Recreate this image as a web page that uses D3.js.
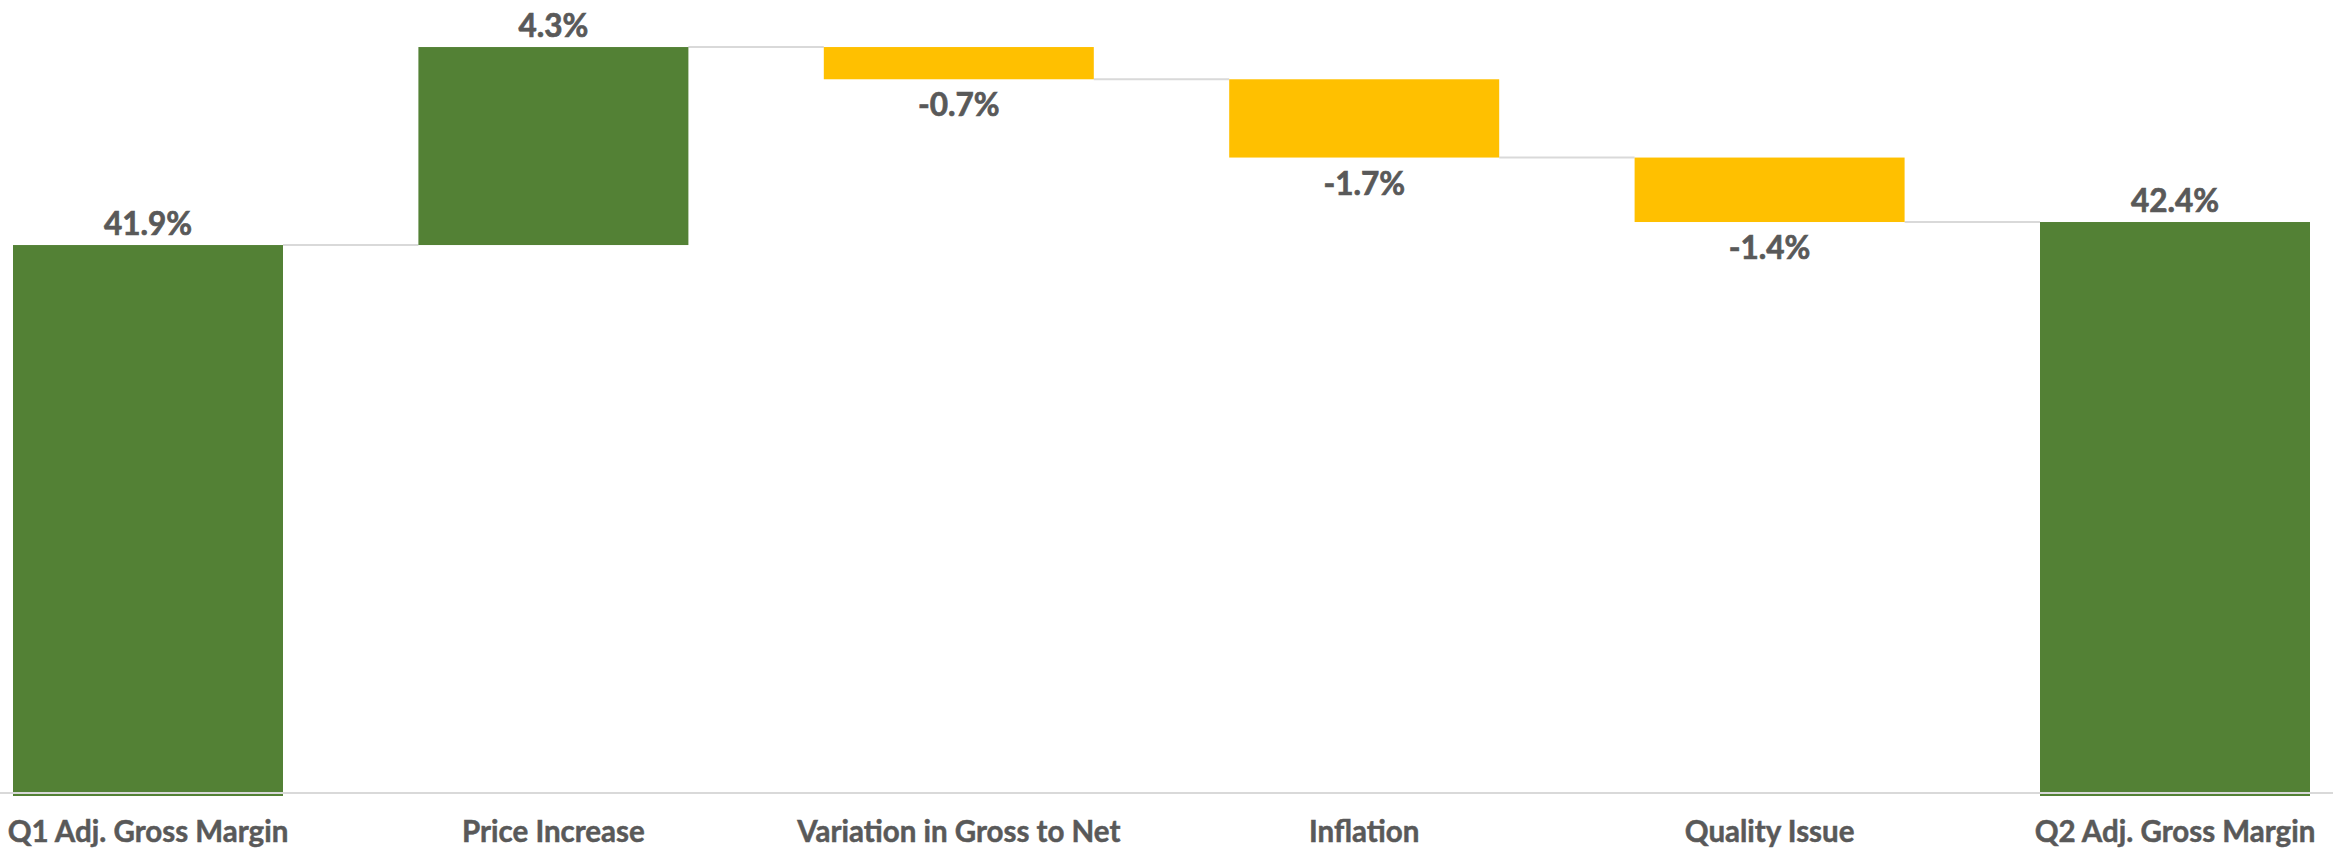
<!DOCTYPE html>
<html>
<head>
<meta charset="utf-8">
<script src="https://cdn.jsdelivr.net/npm/d3@7/dist/d3.min.js"></script>
<style>
  html, body { margin: 0; padding: 0; background: #ffffff; }
  svg { display: block; }
</style>
</head>
<body>
<svg id="chart" width="2333" height="848"></svg>
<script>
// ---- data ----
const categories = ["Q1 Adj. Gross Margin", "Price Increase", "Variation in Gross to Net", "Inflation", "Quality Issue", "Q2 Adj. Gross Margin"];
const values = [41.9, 4.3, -0.7, -1.7, -1.4, 42.4];
const kinds = ["total", "delta", "delta", "delta", "delta", "total"];
const valueLabels = ["41.9%", "4.3%", "-0.7%", "-1.7%", "-1.4%", "42.4%"];
const yDomain = [30, 47];

// ---- layout ----
const W = 2333, H = 848;
const svg = d3.select("#chart");
const green = "#538135", yellow = "#FFC000", textCol = "#595959", gridCol = "#d9d9d9";

const x = d3.scaleBand().domain(categories).range([13, 2310]).paddingInner(0.334).paddingOuter(0);
const y = d3.scaleLinear().domain(yDomain).range([793, 10.2]);

// running waterfall
let running = 0;
const bars = categories.map((c, i) => {
  let start, end;
  if (kinds[i] === "total") { start = yDomain[0]; end = values[i]; running = values[i]; }
  else { start = running; end = running + values[i]; running = end; }
  return { cat: c, start, end, value: values[i], kind: kinds[i], label: valueLabels[i] };
});

// connectors
for (let i = 0; i < bars.length - 1; i++) {
  const level = bars[i].end;
  svg.append("line")
    .attr("x1", x(bars[i].cat) + x.bandwidth())
    .attr("x2", x(bars[i + 1].cat))
    .attr("y1", y(level)).attr("y2", y(level))
    .attr("stroke", gridCol).attr("stroke-width", 2);
}

// bars
svg.selectAll("rect.bar").data(bars).enter().append("rect")
  .attr("class", "bar")
  .attr("x", d => x(d.cat))
  .attr("width", x.bandwidth())
  .attr("y", d => y(Math.max(d.start, d.end)))
  .attr("height", d => {
    const h = Math.abs(y(d.start) - y(d.end));
    return d.kind === "total" ? h + 3 : h;
  })
  .attr("fill", d => (d.kind === "total" || d.value >= 0) ? green : yellow);

// axis baseline
svg.append("line")
  .attr("x1", 0).attr("x2", W)
  .attr("y1", y(yDomain[0])).attr("y2", y(yDomain[0]))
  .attr("stroke", gridCol).attr("stroke-width", 2);

// value labels
svg.selectAll("text.val").data(bars).enter().append("text")
  .attr("class", "val")
  .attr("x", d => x(d.cat) + x.bandwidth() / 2)
  .attr("y", d => d.value >= 0 ? y(Math.max(d.start, d.end)) - 10 : y(Math.min(d.start, d.end)) + 37)
  .attr("text-anchor", "middle")
  .attr("font-family", "Lato, 'Open Sans', sans-serif")
  .attr("font-weight", "bold")
  .attr("font-size", 31.5)
  .attr("fill", textCol)
  .attr("stroke", textCol)
  .attr("stroke-width", 0.7)
  .text(d => d.label);

// category axis labels
const xAxis = d3.axisBottom(x).tickSize(0).tickPadding(0);
const gx = svg.append("g").attr("transform", `translate(0, ${y(yDomain[0])})`).call(xAxis);
gx.select(".domain").remove();
gx.selectAll("text")
  .attr("dy", 0)
  .attr("y", 49)
  .attr("font-family", "Lato, 'Open Sans', sans-serif")
  .attr("font-weight", "bold")
  .attr("font-size", 29.5)
  .attr("fill", textCol)
  .attr("stroke", textCol)
  .attr("stroke-width", 0.5);
</script>
</body>
</html>
